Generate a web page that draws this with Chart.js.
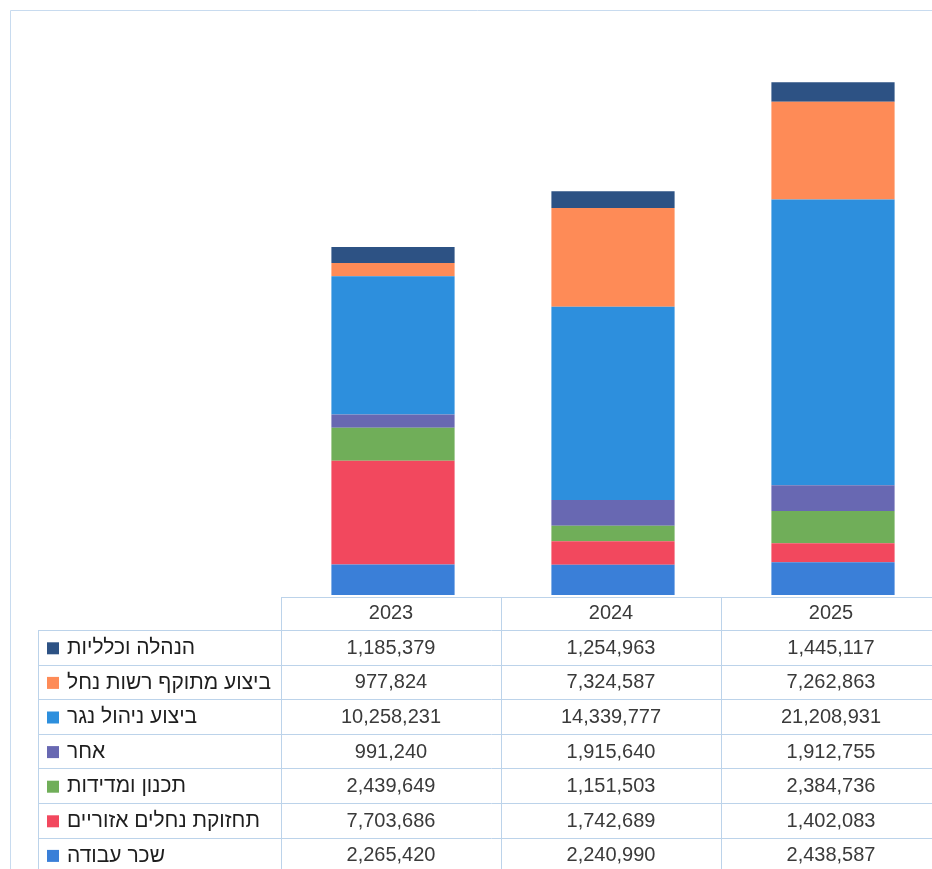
<!DOCTYPE html>
<html lang="he">
<head>
<meta charset="utf-8">
<script src="https://cdn.jsdelivr.net/npm/chart.js@4.4.1/dist/chart.umd.min.js"></script>
<style>
  html, body { margin: 0; padding: 0; background: #fff; overflow: hidden; }
  canvas { display: block; }
</style>
</head>
<body>
<canvas id="budgetChart" width="945" height="869"></canvas>
<script>
// categories
const years = ['2023', '2024', '2025'];

// series (bottom of stack first)
const laborCost = [2265420, 2240990, 2438587];        // שכר עבודה
const streamMaint = [7703686, 1742689, 1402083];      // תחזוקת נחלים אזוריים
const planning = [2439649, 1151503, 2384736];         // תכנון ומדידות
const other = [991240, 1915640, 1912755];             // אחר
const runoffMgmt = [10258231, 14339777, 21208931];    // ביצוע ניהול נגר
const riverAuthority = [977824, 7324587, 7262863];    // ביצוע מתוקף רשות נחל
const admin = [1185379, 1254963, 1445117];            // הנהלה וכלליות

const seriesNames = ['שכר עבודה', 'תחזוקת נחלים אזוריים', 'תכנון ומדידות', 'אחר', 'ביצוע ניהול נגר', 'ביצוע מתוקף רשות נחל', 'הנהלה וכלליות'];
const seriesValues = [laborCost, streamMaint, planning, other, runoffMgmt, riverAuthority, admin];
const seriesColors = ['#3a7fd8', '#f2485e', '#70ae59', '#6868b2', '#2d8fdd', '#fe8b57', '#2d5284'];

const gridColor = '#bcd3ea';
const textFont = "20px 'Liberation Sans', Arial, sans-serif";
const labelFont = "21px 'Liberation Sans', 'DejaVu Sans', sans-serif";

// draws the data table under the bars, columns taken from the x scale
const dataTablePlugin = {
    id: 'dataTable',
    afterDraw(chart) {
        const ctx = chart.ctx;
        const xScale = chart.scales.x;
        const area = chart.chartArea;
        const colW = (area.right - area.left) / years.length;
        const tableLeft = area.left - 2;
        const headerTop = area.bottom + 2;
        const rowsTop = headerTop + 33;
        const rowH = 34.6;
        const labelLeft = 38;
        const nRows = seriesNames.length;

        ctx.save();
        // outer frame of the page
        ctx.strokeStyle = '#c8dbef';
        ctx.lineWidth = 1;
        ctx.beginPath();
        ctx.moveTo(10.5, 869);
        ctx.lineTo(10.5, 10.5);
        ctx.lineTo(chart.width, 10.5);
        ctx.stroke();

        // table lines
        ctx.strokeStyle = gridColor;
        ctx.beginPath();
        ctx.moveTo(tableLeft, headerTop + 0.5);
        ctx.lineTo(chart.width, headerTop + 0.5);
        for (let r = 0; r <= nRows; r++) {
            const y = Math.round(rowsTop + r * rowH) + 0.5;
            ctx.moveTo(labelLeft, y);
            ctx.lineTo(chart.width, y);
        }
        for (let c = 0; c <= years.length; c++) {
            const x = Math.round(tableLeft + c * colW) + 0.5;
            ctx.moveTo(x, headerTop);
            ctx.lineTo(x, chart.height);
        }
        ctx.moveTo(labelLeft + 0.5, rowsTop);
        ctx.lineTo(labelLeft + 0.5, chart.height);
        ctx.stroke();

        // header
        ctx.fillStyle = '#3a3a3a';
        ctx.font = textFont;
        ctx.textAlign = 'center';
        ctx.textBaseline = 'middle';
        years.forEach((yr, i) => {
            ctx.fillText(yr, xScale.getPixelForValue(i) - 2, headerTop + 16);
        });

        // rows, top row = top of stack
        for (let r = 0; r < nRows; r++) {
            const s = nRows - 1 - r;
            const cy = rowsTop + r * rowH + rowH / 2 + 1;
            ctx.fillStyle = seriesColors[s];
            ctx.fillRect(47, cy - 6, 12, 12);

            ctx.fillStyle = '#1e1e1e';
            ctx.font = labelFont;
            ctx.direction = 'rtl';
            ctx.textAlign = 'left';
            ctx.fillText(seriesNames[s], 67, cy);

            ctx.direction = 'ltr';
            ctx.textAlign = 'center';
            ctx.font = textFont;
            ctx.fillStyle = '#3a3a3a';
            seriesValues[s].forEach((v, i) => {
                ctx.fillText(v.toLocaleString('en-US'), xScale.getPixelForValue(i) - 2, cy);
            });
        }
        ctx.restore();
    }
};

const ctx = document.getElementById('budgetChart').getContext('2d');
new Chart(ctx, {
    type: 'bar',
    data: {
        labels: years,
        datasets: seriesNames.map((name, i) => ({
            label: name,
            data: seriesValues[i],
            backgroundColor: seriesColors[i],
            borderWidth: 0,
            categoryPercentage: 0.8,
            barPercentage: 0.7
        }))
    },
    options: {
        responsive: false,
        animation: false,
        devicePixelRatio: 1,
        layout: {
            padding: { left: 283, right: 2, top: 56, bottom: 274 }
        },
        scales: {
            x: { stacked: true, display: false },
            y: { stacked: true, display: false, min: 0, max: 40000000 }
        },
        plugins: {
            legend: { display: false },
            tooltip: { enabled: false }
        }
    },
    plugins: [dataTablePlugin]
});
</script>
</body>
</html>
